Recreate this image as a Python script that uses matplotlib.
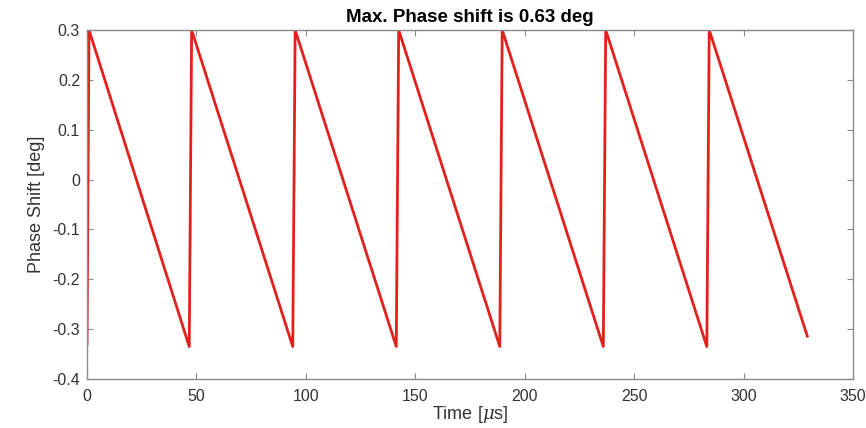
import matplotlib
matplotlib.use("Agg")
import matplotlib.pyplot as plt

# Sawtooth vertices (time in µs, phase shift in deg)
time_us = [0.0, 0.9, 46.7, 47.8, 94.0, 95.1, 141.3, 142.4, 188.6, 189.7,
           235.9, 237.0, 283.2, 284.3, 329.1]
phase_deg = [-0.33, 0.30, -0.335, 0.30, -0.335, 0.30, -0.335, 0.30, -0.335, 0.30,
             -0.335, 0.30, -0.335, 0.30, -0.314]

xticks = [0, 50, 100, 150, 200, 250, 300, 350]
yticks = [-0.4, -0.3, -0.2, -0.1, 0, 0.1, 0.2, 0.3]
ytick_labels = ["-0.4", "-0.3", "-0.2", "-0.1", "0", "0.1", "0.2", "0.3"]

plt.rcParams['font.family'] = ['Liberation Sans', 'DejaVu Sans']
plt.rcParams['mathtext.fontset'] = 'custom'
plt.rcParams['mathtext.it'] = 'DejaVu Serif:italic'
plt.rcParams['mathtext.rm'] = 'Liberation Sans'

fig = plt.figure(figsize=(8.66, 4.28), dpi=100)
ax = fig.add_axes([0.1005, 0.1145, 0.8845, 0.8155])
ax.plot(time_us, phase_deg, color='#e3211c', linewidth=2.0)

ax.set_xlim(0, 350)
ax.set_ylim(-0.4, 0.3)
ax.set_xticks(xticks)
ax.set_yticks(yticks)
ax.set_yticklabels(ytick_labels)

for s in ax.spines.values():
    s.set_color('#8a8a8a')
    s.set_linewidth(1.0)
ax.tick_params(direction='in', top=True, right=True, length=4, width=0.8,
               color='#8a8a8a', labelsize=11.5, labelcolor='#333333')
ax.tick_params(axis='x', pad=7)
ax.tick_params(axis='y', pad=5)

ax.set_title('Max. Phase shift is 0.63 deg', fontsize=13.5, fontweight='bold', pad=6)
ax.set_xlabel(r'Time [$\mu$s]', fontsize=13, color='#333333', labelpad=0)
ax.set_ylabel('Phase Shift [deg]', fontsize=13, color='#333333', labelpad=5)

fig.savefig('out.png', dpi=100)
